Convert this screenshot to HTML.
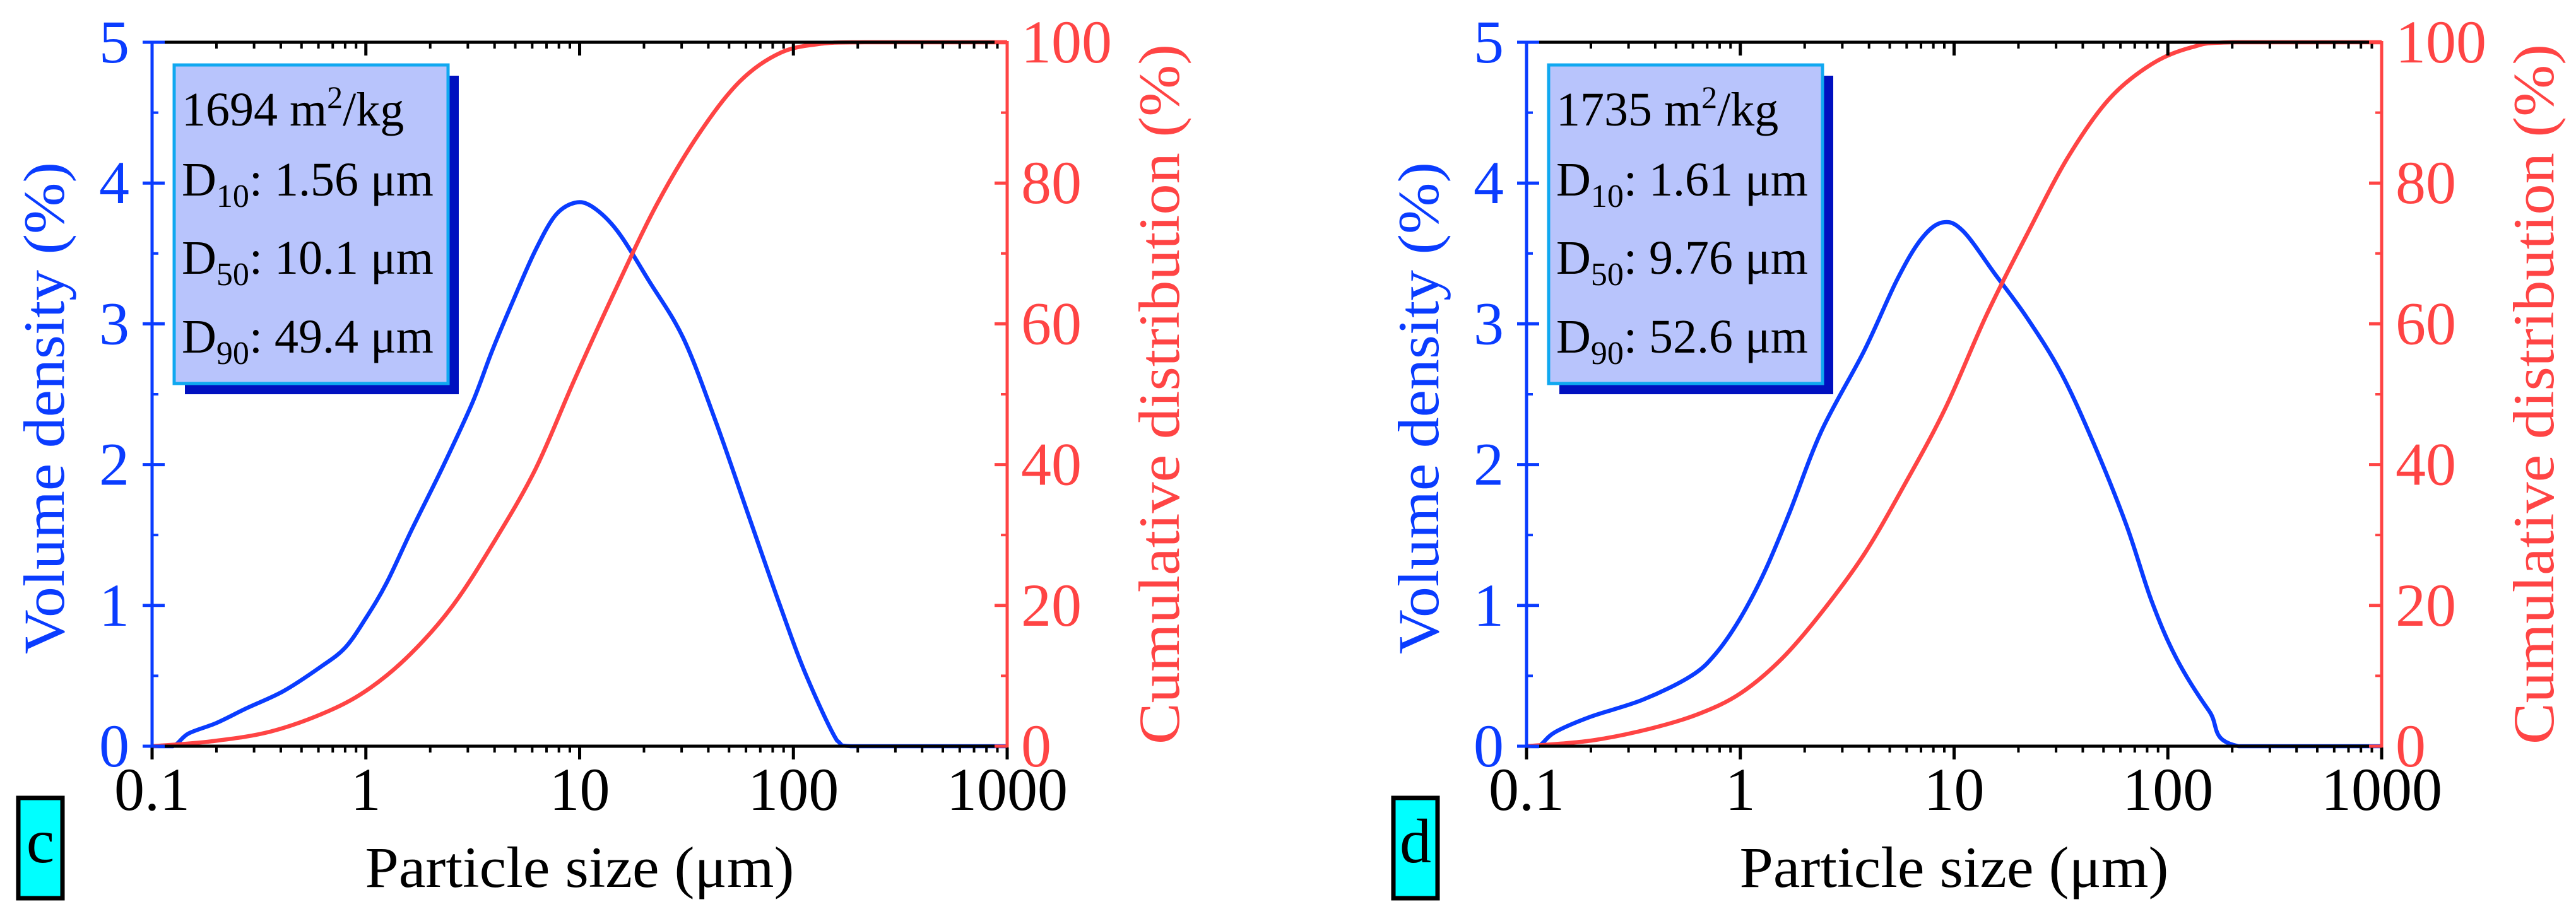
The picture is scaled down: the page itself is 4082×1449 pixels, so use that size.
<!DOCTYPE html>
<html><head><meta charset="utf-8"><style>
html,body{margin:0;padding:0;background:#fff;}
svg{display:block;font-family:"Liberation Serif",serif;}
</style></head><body>
<svg id="fig" width="4082" height="1449" viewBox="0 0 4082 1449" xmlns="http://www.w3.org/2000/svg"></svg>
<script>
// Panel c data
const sizesBlueC = [0.1,0.125,0.148,0.2,0.277,0.41,0.61,0.8,1.0,1.25,1.63,2.3,3.15,3.9,4.9,6.2,7.7,9.5,11.5,15,21,30.5,43,61,87,115,160,185,1000];
const densityC   = [0,0,0.09,0.165,0.27,0.39,0.56,0.70,0.91,1.16,1.53,1.99,2.44,2.81,3.17,3.52,3.77,3.86,3.83,3.66,3.31,2.90,2.32,1.66,0.99,0.50,0.04,0,0];
const sizesRedC  = [0.1,0.19,0.36,0.67,1.05,1.63,2.54,3.9,6.2,9.5,15,23,36,56,87,136,214,1000];
const cumulC     = [0,0.7,2.1,5.0,8.3,13.2,19.9,28.6,39.3,52.2,65.4,77,86.9,94.4,98.5,99.8,100,100];
// Panel d data
const sizesBlueD = [0.1,0.114,0.136,0.2,0.35,0.59,0.77,1.0,1.3,1.7,2.4,3.8,5.4,7.0,8.8,11,15.6,22,31.7,45,64,84,110,156,214,1000];
const densityD   = [0,0,0.1,0.21,0.33,0.50,0.66,0.91,1.24,1.66,2.24,2.81,3.31,3.60,3.72,3.66,3.35,3.04,2.65,2.15,1.57,1.03,0.62,0.25,0,0];
const sizesRedD  = [0.1,0.2,0.38,0.64,1.0,1.56,2.4,3.8,5.9,9.1,14.2,22,34,53,84,130,200,1000];
const cumulD     = [0,0.8,2.5,4.6,7.5,12.4,19,27.3,37.3,48,61.3,72.8,83.6,91.9,96.9,99.3,100,100];
// Axis ticks
const xTicks = [0.1,1,10,100,1000];
const xTickLabels = ["0.1","1","10","100","1000"];
const yLeftTicks = [0,1,2,3,4,5];
const yRightTicks = [0,20,40,60,80,100];
const infoC = ["1694","1.56","10.1","49.4"];
const infoD = ["1735","1.61","9.76","52.6"];

const NS="http://www.w3.org/2000/svg";
const svg=document.getElementById('fig');
const BLUE="#0a3cff", RED="#ff4444";
function mk(tag,attrs,parent){const e=document.createElementNS(NS,tag);for(const k in attrs)e.setAttribute(k,attrs[k]);(parent||svg).appendChild(e);return e;}
function smooth(pts,ymin,ymax){
  let d='M'+pts[0][0].toFixed(1)+','+pts[0][1].toFixed(1);
  const cl=v=>Math.min(Math.max(v,ymin),ymax);
  for(let i=0;i<pts.length-1;i++){
    const p0=pts[Math.max(0,i-1)],p1=pts[i],p2=pts[i+1],p3=pts[Math.min(pts.length-1,i+2)];
    const k=1/6;
    const c1=[p1[0]+(p2[0]-p0[0])*k,cl(p1[1]+(p2[1]-p0[1])*k)];
    const c2=[p2[0]-(p3[0]-p1[0])*k,cl(p2[1]-(p3[1]-p1[1])*k)];
    if(p1[1]===p2[1]){c1[1]=p1[1];c2[1]=p2[1];}
    c1[0]=Math.min(Math.max(c1[0],p1[0]),p2[0]);c2[0]=Math.min(Math.max(c2[0],p1[0]),p2[0]);
    d+='C'+c1[0].toFixed(1)+','+c1[1].toFixed(1)+' '+c2[0].toFixed(1)+','+c2[1].toFixed(1)+' '+p2[0].toFixed(1)+','+p2[1].toFixed(1);
  }
  return d;
}

function panel(ox, letter, letterX, sb, db, sr, cr, info){
  const L=ox, R=ox+1355, T=67, B=1183;
  const g=mk('g',{});
  
  
  const xs=v=>L+(Math.log10(v)+1)/4*(R-L);
  const yl=v=>B-v/5*(B-T);
  const yr=v=>B-v/100*(B-T);
  const pb=mk('path',{d:smooth(sb.map((s,i)=>[xs(s),yl(db[i])]),T,B),fill:'none',stroke:BLUE,'stroke-width':6.5,'stroke-linejoin':'round'},g);
  
  
  const pr=mk('path',{d:smooth(sr.map((s,i)=>[xs(s),yr(cr[i])]),T,B),fill:'none',stroke:RED,'stroke-width':6.5,'stroke-linejoin':'round'},g);
  
  
  mk('line',{x1:L,x2:R,y1:T,y2:T,stroke:'#000','stroke-width':5},g);
  mk('line',{x1:L,x2:R,y1:B,y2:B,stroke:'#000','stroke-width':5},g);
  for(let e=-1;e<3;e++){for(let m=2;m<10;m++){const x=xs(m*Math.pow(10,e));
    mk('line',{x1:x,x2:x,y1:B,y2:B+10,stroke:'#000','stroke-width':4},g);
    mk('line',{x1:x,x2:x,y1:T,y2:T+10,stroke:'#000','stroke-width':4},g);}}
  xTicks.forEach((v,i)=>{const x=xs(v);
    mk('line',{x1:x,x2:x,y1:B,y2:B+21,stroke:'#000','stroke-width':5},g);
    mk('line',{x1:x,x2:x,y1:T,y2:T+21,stroke:'#000','stroke-width':5},g);
    const t=mk('text',{x:x,y:1284,'font-size':96,'text-anchor':'middle',fill:'#000'},g);
    t.textContent=xTickLabels[i];
    
    });
  mk('line',{x1:L,x2:L,y1:T-2,y2:B+2,stroke:BLUE,'stroke-width':5},g);
  for(let v=0.5;v<5;v+=1){const y=yl(v);mk('line',{x1:L,x2:L+10,y1:y,y2:y,stroke:BLUE,'stroke-width':4},g);}
  yLeftTicks.forEach(v=>{const y=yl(v);
    mk('line',{x1:L-15,x2:L+20,y1:y,y2:y,stroke:BLUE,'stroke-width':5},g);
    const t=mk('text',{x:L-36,y:y+32,'font-size':96,'text-anchor':'end',fill:BLUE},g);
    t.textContent=v;
    
    });
  mk('line',{x1:R,x2:R,y1:T-2,y2:B+2,stroke:RED,'stroke-width':5},g);
  for(let v=10;v<100;v+=20){const y=yr(v);mk('line',{x1:R-10,x2:R,y1:y,y2:y,stroke:RED,'stroke-width':4},g);}
  yRightTicks.forEach(v=>{const y=yr(v);
    mk('line',{x1:R-20,x2:R,y1:y,y2:y,stroke:RED,'stroke-width':5},g);
    const t=mk('text',{x:R+22,y:y+32,'font-size':96,'text-anchor':'start',fill:RED},g);
    t.textContent=v;
    
    });
  const xt=mk('text',{x:(L+R)/2,y:1406,'font-size':92,'text-anchor':'middle',fill:'#000',textLength:680,lengthAdjust:'spacingAndGlyphs'},g);
  xt.textContent='Particle size (μm)';
  
  
  const ylt=mk('text',{x:0,y:0,'font-size':92,'text-anchor':'middle',fill:BLUE,transform:`translate(${L-140},${(T+B)/2+22}) rotate(-90)`,textLength:780,lengthAdjust:'spacingAndGlyphs'},g);
  ylt.textContent='Volume density (%)';
  
  
  const yrt=mk('text',{x:0,y:0,'font-size':92,'text-anchor':'middle',fill:RED,transform:`translate(${R+272},${(T+B)/2}) rotate(-90)`,textLength:1110,lengthAdjust:'spacingAndGlyphs'},g);
  yrt.textContent='Cumulative distribution (%)';
  
  
  const bx=L+35, by=103, bw=434, bh=505;
  mk('rect',{x:bx+17,y:by+17,width:bw,height:bh,fill:'#0010c0'},g);
  const box=mk('rect',{x:bx,y:by,width:bw,height:bh,fill:'#b8c4fc',stroke:'#10a8f0','stroke-width':5},g);
  
  
  const tx=bx+12, fs=76;
  const t1=mk('text',{x:tx,y:199,'font-size':fs,fill:'#000'},g);
  t1.innerHTML=info[0]+' m<tspan dy="-28" font-size="50">2</tspan><tspan dy="28">/kg</tspan>';
  
  
  [['10',info[1],310],['50',info[2],434],['90',info[3],559]].forEach(r=>{
    const t=mk('text',{x:tx,y:r[2],'font-size':fs,fill:'#000'},g);
    t.innerHTML='D<tspan dy="18" font-size="52">'+r[0]+'</tspan><tspan dy="-18">: '+r[1]+' μm</tspan>';
    
    });
  mk('rect',{x:letterX+3,y:1265,width:70,height:159,fill:'#00ffff',stroke:'#000','stroke-width':7},g);
  const lt=mk('text',{x:letterX+38,y:1367,'font-size':100,'text-anchor':'middle',fill:'#000'},g);
  lt.textContent=letter;
  
  
}
panel(241,'c',26,sizesBlueC,densityC,sizesRedC,cumulC,infoC);
panel(2419,'d',2205,sizesBlueD,densityD,sizesRedD,cumulD,infoD);
</script>
</body></html>
